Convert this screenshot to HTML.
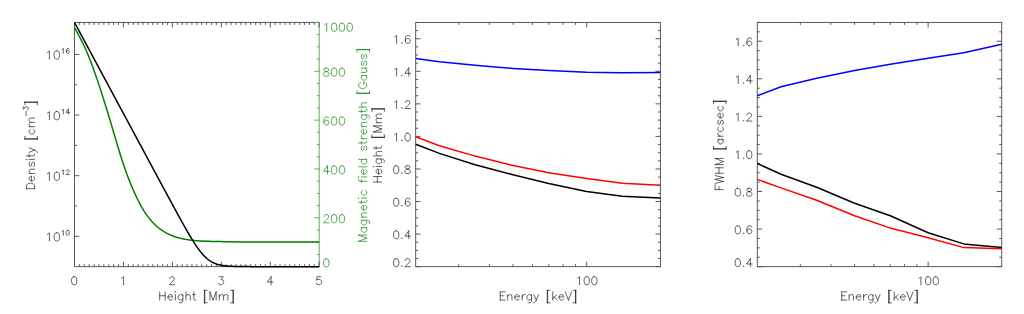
<!DOCTYPE html>
<html><head><meta charset="utf-8"><title>plot</title>
<style>html,body{margin:0;padding:0;background:#fff;font-family:"Liberation Sans",sans-serif;}svg{display:block}</style>
</head><body>
<svg role="img" aria-label="Density and magnetic field strength versus height; Height versus Energy; FWHM versus Energy" width="1024" height="314" viewBox="0 0 1024 314">
<title>Density [cm-3] and Magnetic field strength [Gauss] vs Height [Mm]; Height [Mm] vs Energy [keV]; FWHM [arcsec] vs Energy [keV]</title>
<rect width="1024" height="314" fill="#fff"/>
<line x1="74.50" y1="22.45" x2="74.50" y2="266.65" stroke="#505050" stroke-width="0.95"/>
<line x1="74.50" y1="22.45" x2="319.20" y2="22.45" stroke="#505050" stroke-width="0.95"/>
<line x1="74.50" y1="266.65" x2="319.20" y2="266.65" stroke="#505050" stroke-width="0.95"/>
<line x1="319.20" y1="22.45" x2="319.20" y2="266.65" stroke="#55aa55" stroke-width="0.95"/>
<line x1="74.50" y1="266.65" x2="74.50" y2="261.75" stroke="#505050" stroke-width="0.95"/>
<line x1="74.50" y1="22.45" x2="74.50" y2="27.35" stroke="#505050" stroke-width="0.95"/>
<line x1="79.39" y1="266.65" x2="79.39" y2="264.20" stroke="#505050" stroke-width="0.95"/>
<line x1="79.39" y1="22.45" x2="79.39" y2="24.90" stroke="#505050" stroke-width="0.95"/>
<line x1="84.29" y1="266.65" x2="84.29" y2="264.20" stroke="#505050" stroke-width="0.95"/>
<line x1="84.29" y1="22.45" x2="84.29" y2="24.90" stroke="#505050" stroke-width="0.95"/>
<line x1="89.18" y1="266.65" x2="89.18" y2="264.20" stroke="#505050" stroke-width="0.95"/>
<line x1="89.18" y1="22.45" x2="89.18" y2="24.90" stroke="#505050" stroke-width="0.95"/>
<line x1="94.08" y1="266.65" x2="94.08" y2="264.20" stroke="#505050" stroke-width="0.95"/>
<line x1="94.08" y1="22.45" x2="94.08" y2="24.90" stroke="#505050" stroke-width="0.95"/>
<line x1="98.97" y1="266.65" x2="98.97" y2="264.20" stroke="#505050" stroke-width="0.95"/>
<line x1="98.97" y1="22.45" x2="98.97" y2="24.90" stroke="#505050" stroke-width="0.95"/>
<line x1="103.86" y1="266.65" x2="103.86" y2="264.20" stroke="#505050" stroke-width="0.95"/>
<line x1="103.86" y1="22.45" x2="103.86" y2="24.90" stroke="#505050" stroke-width="0.95"/>
<line x1="108.76" y1="266.65" x2="108.76" y2="264.20" stroke="#505050" stroke-width="0.95"/>
<line x1="108.76" y1="22.45" x2="108.76" y2="24.90" stroke="#505050" stroke-width="0.95"/>
<line x1="113.65" y1="266.65" x2="113.65" y2="264.20" stroke="#505050" stroke-width="0.95"/>
<line x1="113.65" y1="22.45" x2="113.65" y2="24.90" stroke="#505050" stroke-width="0.95"/>
<line x1="118.55" y1="266.65" x2="118.55" y2="264.20" stroke="#505050" stroke-width="0.95"/>
<line x1="118.55" y1="22.45" x2="118.55" y2="24.90" stroke="#505050" stroke-width="0.95"/>
<line x1="123.44" y1="266.65" x2="123.44" y2="261.75" stroke="#505050" stroke-width="0.95"/>
<line x1="123.44" y1="22.45" x2="123.44" y2="27.35" stroke="#505050" stroke-width="0.95"/>
<line x1="128.33" y1="266.65" x2="128.33" y2="264.20" stroke="#505050" stroke-width="0.95"/>
<line x1="128.33" y1="22.45" x2="128.33" y2="24.90" stroke="#505050" stroke-width="0.95"/>
<line x1="133.23" y1="266.65" x2="133.23" y2="264.20" stroke="#505050" stroke-width="0.95"/>
<line x1="133.23" y1="22.45" x2="133.23" y2="24.90" stroke="#505050" stroke-width="0.95"/>
<line x1="138.12" y1="266.65" x2="138.12" y2="264.20" stroke="#505050" stroke-width="0.95"/>
<line x1="138.12" y1="22.45" x2="138.12" y2="24.90" stroke="#505050" stroke-width="0.95"/>
<line x1="143.02" y1="266.65" x2="143.02" y2="264.20" stroke="#505050" stroke-width="0.95"/>
<line x1="143.02" y1="22.45" x2="143.02" y2="24.90" stroke="#505050" stroke-width="0.95"/>
<line x1="147.91" y1="266.65" x2="147.91" y2="264.20" stroke="#505050" stroke-width="0.95"/>
<line x1="147.91" y1="22.45" x2="147.91" y2="24.90" stroke="#505050" stroke-width="0.95"/>
<line x1="152.80" y1="266.65" x2="152.80" y2="264.20" stroke="#505050" stroke-width="0.95"/>
<line x1="152.80" y1="22.45" x2="152.80" y2="24.90" stroke="#505050" stroke-width="0.95"/>
<line x1="157.70" y1="266.65" x2="157.70" y2="264.20" stroke="#505050" stroke-width="0.95"/>
<line x1="157.70" y1="22.45" x2="157.70" y2="24.90" stroke="#505050" stroke-width="0.95"/>
<line x1="162.59" y1="266.65" x2="162.59" y2="264.20" stroke="#505050" stroke-width="0.95"/>
<line x1="162.59" y1="22.45" x2="162.59" y2="24.90" stroke="#505050" stroke-width="0.95"/>
<line x1="167.49" y1="266.65" x2="167.49" y2="264.20" stroke="#505050" stroke-width="0.95"/>
<line x1="167.49" y1="22.45" x2="167.49" y2="24.90" stroke="#505050" stroke-width="0.95"/>
<line x1="172.38" y1="266.65" x2="172.38" y2="261.75" stroke="#505050" stroke-width="0.95"/>
<line x1="172.38" y1="22.45" x2="172.38" y2="27.35" stroke="#505050" stroke-width="0.95"/>
<line x1="177.27" y1="266.65" x2="177.27" y2="264.20" stroke="#505050" stroke-width="0.95"/>
<line x1="177.27" y1="22.45" x2="177.27" y2="24.90" stroke="#505050" stroke-width="0.95"/>
<line x1="182.17" y1="266.65" x2="182.17" y2="264.20" stroke="#505050" stroke-width="0.95"/>
<line x1="182.17" y1="22.45" x2="182.17" y2="24.90" stroke="#505050" stroke-width="0.95"/>
<line x1="187.06" y1="266.65" x2="187.06" y2="264.20" stroke="#505050" stroke-width="0.95"/>
<line x1="187.06" y1="22.45" x2="187.06" y2="24.90" stroke="#505050" stroke-width="0.95"/>
<line x1="191.96" y1="266.65" x2="191.96" y2="264.20" stroke="#505050" stroke-width="0.95"/>
<line x1="191.96" y1="22.45" x2="191.96" y2="24.90" stroke="#505050" stroke-width="0.95"/>
<line x1="196.85" y1="266.65" x2="196.85" y2="264.20" stroke="#505050" stroke-width="0.95"/>
<line x1="196.85" y1="22.45" x2="196.85" y2="24.90" stroke="#505050" stroke-width="0.95"/>
<line x1="201.74" y1="266.65" x2="201.74" y2="264.20" stroke="#505050" stroke-width="0.95"/>
<line x1="201.74" y1="22.45" x2="201.74" y2="24.90" stroke="#505050" stroke-width="0.95"/>
<line x1="206.64" y1="266.65" x2="206.64" y2="264.20" stroke="#505050" stroke-width="0.95"/>
<line x1="206.64" y1="22.45" x2="206.64" y2="24.90" stroke="#505050" stroke-width="0.95"/>
<line x1="211.53" y1="266.65" x2="211.53" y2="264.20" stroke="#505050" stroke-width="0.95"/>
<line x1="211.53" y1="22.45" x2="211.53" y2="24.90" stroke="#505050" stroke-width="0.95"/>
<line x1="216.43" y1="266.65" x2="216.43" y2="264.20" stroke="#505050" stroke-width="0.95"/>
<line x1="216.43" y1="22.45" x2="216.43" y2="24.90" stroke="#505050" stroke-width="0.95"/>
<line x1="221.32" y1="266.65" x2="221.32" y2="261.75" stroke="#505050" stroke-width="0.95"/>
<line x1="221.32" y1="22.45" x2="221.32" y2="27.35" stroke="#505050" stroke-width="0.95"/>
<line x1="226.21" y1="266.65" x2="226.21" y2="264.20" stroke="#505050" stroke-width="0.95"/>
<line x1="226.21" y1="22.45" x2="226.21" y2="24.90" stroke="#505050" stroke-width="0.95"/>
<line x1="231.11" y1="266.65" x2="231.11" y2="264.20" stroke="#505050" stroke-width="0.95"/>
<line x1="231.11" y1="22.45" x2="231.11" y2="24.90" stroke="#505050" stroke-width="0.95"/>
<line x1="236.00" y1="266.65" x2="236.00" y2="264.20" stroke="#505050" stroke-width="0.95"/>
<line x1="236.00" y1="22.45" x2="236.00" y2="24.90" stroke="#505050" stroke-width="0.95"/>
<line x1="240.90" y1="266.65" x2="240.90" y2="264.20" stroke="#505050" stroke-width="0.95"/>
<line x1="240.90" y1="22.45" x2="240.90" y2="24.90" stroke="#505050" stroke-width="0.95"/>
<line x1="245.79" y1="266.65" x2="245.79" y2="264.20" stroke="#505050" stroke-width="0.95"/>
<line x1="245.79" y1="22.45" x2="245.79" y2="24.90" stroke="#505050" stroke-width="0.95"/>
<line x1="250.68" y1="266.65" x2="250.68" y2="264.20" stroke="#505050" stroke-width="0.95"/>
<line x1="250.68" y1="22.45" x2="250.68" y2="24.90" stroke="#505050" stroke-width="0.95"/>
<line x1="255.58" y1="266.65" x2="255.58" y2="264.20" stroke="#505050" stroke-width="0.95"/>
<line x1="255.58" y1="22.45" x2="255.58" y2="24.90" stroke="#505050" stroke-width="0.95"/>
<line x1="260.47" y1="266.65" x2="260.47" y2="264.20" stroke="#505050" stroke-width="0.95"/>
<line x1="260.47" y1="22.45" x2="260.47" y2="24.90" stroke="#505050" stroke-width="0.95"/>
<line x1="265.37" y1="266.65" x2="265.37" y2="264.20" stroke="#505050" stroke-width="0.95"/>
<line x1="265.37" y1="22.45" x2="265.37" y2="24.90" stroke="#505050" stroke-width="0.95"/>
<line x1="270.26" y1="266.65" x2="270.26" y2="261.75" stroke="#505050" stroke-width="0.95"/>
<line x1="270.26" y1="22.45" x2="270.26" y2="27.35" stroke="#505050" stroke-width="0.95"/>
<line x1="275.15" y1="266.65" x2="275.15" y2="264.20" stroke="#505050" stroke-width="0.95"/>
<line x1="275.15" y1="22.45" x2="275.15" y2="24.90" stroke="#505050" stroke-width="0.95"/>
<line x1="280.05" y1="266.65" x2="280.05" y2="264.20" stroke="#505050" stroke-width="0.95"/>
<line x1="280.05" y1="22.45" x2="280.05" y2="24.90" stroke="#505050" stroke-width="0.95"/>
<line x1="284.94" y1="266.65" x2="284.94" y2="264.20" stroke="#505050" stroke-width="0.95"/>
<line x1="284.94" y1="22.45" x2="284.94" y2="24.90" stroke="#505050" stroke-width="0.95"/>
<line x1="289.84" y1="266.65" x2="289.84" y2="264.20" stroke="#505050" stroke-width="0.95"/>
<line x1="289.84" y1="22.45" x2="289.84" y2="24.90" stroke="#505050" stroke-width="0.95"/>
<line x1="294.73" y1="266.65" x2="294.73" y2="264.20" stroke="#505050" stroke-width="0.95"/>
<line x1="294.73" y1="22.45" x2="294.73" y2="24.90" stroke="#505050" stroke-width="0.95"/>
<line x1="299.62" y1="266.65" x2="299.62" y2="264.20" stroke="#505050" stroke-width="0.95"/>
<line x1="299.62" y1="22.45" x2="299.62" y2="24.90" stroke="#505050" stroke-width="0.95"/>
<line x1="304.52" y1="266.65" x2="304.52" y2="264.20" stroke="#505050" stroke-width="0.95"/>
<line x1="304.52" y1="22.45" x2="304.52" y2="24.90" stroke="#505050" stroke-width="0.95"/>
<line x1="309.41" y1="266.65" x2="309.41" y2="264.20" stroke="#505050" stroke-width="0.95"/>
<line x1="309.41" y1="22.45" x2="309.41" y2="24.90" stroke="#505050" stroke-width="0.95"/>
<line x1="314.31" y1="266.65" x2="314.31" y2="264.20" stroke="#505050" stroke-width="0.95"/>
<line x1="314.31" y1="22.45" x2="314.31" y2="24.90" stroke="#505050" stroke-width="0.95"/>
<line x1="319.20" y1="266.65" x2="319.20" y2="261.75" stroke="#505050" stroke-width="0.95"/>
<line x1="319.20" y1="22.45" x2="319.20" y2="27.35" stroke="#505050" stroke-width="0.95"/>
<path d="M73.82 276.72L72.68 277.10L71.92 278.24L71.54 280.14L71.54 281.28L71.92 283.18L72.68 284.32L73.82 284.70L74.58 284.70L75.72 284.32L76.48 283.18L76.86 281.28L76.86 280.14L76.48 278.24L75.72 277.10L74.58 276.72L73.82 276.72" fill="none" stroke="#000" stroke-width="0.62" stroke-linecap="round" stroke-linejoin="round" />
<path d="M121.62 278.24L122.38 277.86L123.52 276.72L123.52 284.70" fill="none" stroke="#000" stroke-width="0.62" stroke-linecap="round" stroke-linejoin="round" />
<path d="M169.80 278.62L169.80 278.24L170.18 277.48L170.56 277.10L171.32 276.72L172.84 276.72L173.60 277.10L173.98 277.48L174.36 278.24L174.36 279.00L173.98 279.76L173.22 280.90L169.42 284.70L174.74 284.70" fill="none" stroke="#000" stroke-width="0.62" stroke-linecap="round" stroke-linejoin="round" />
<path d="M219.12 276.72L223.30 276.72L221.02 279.76L222.16 279.76L222.92 280.14L223.30 280.52L223.68 281.66L223.68 282.42L223.30 283.56L222.54 284.32L221.40 284.70L220.26 284.70L219.12 284.32L218.74 283.94L218.36 283.18" fill="none" stroke="#000" stroke-width="0.62" stroke-linecap="round" stroke-linejoin="round" />
<path d="M271.10 276.72L267.30 282.04L273.00 282.04M271.10 276.72L271.10 284.70" fill="none" stroke="#000" stroke-width="0.62" stroke-linecap="round" stroke-linejoin="round" />
<path d="M320.80 276.72L317.00 276.72L316.62 280.14L317.00 279.76L318.14 279.38L319.28 279.38L320.42 279.76L321.18 280.52L321.56 281.66L321.56 282.42L321.18 283.56L320.42 284.32L319.28 284.70L318.14 284.70L317.00 284.32L316.62 283.94L316.24 283.18" fill="none" stroke="#000" stroke-width="0.62" stroke-linecap="round" stroke-linejoin="round" />
<path d="M159.70 291.87L159.70 300.10M165.19 291.87L165.19 300.10M159.70 295.79L165.19 295.79M167.93 296.96L172.64 296.96L172.64 296.18L172.25 295.40L171.85 295.00L171.07 294.61L169.89 294.61L169.11 295.00L168.33 295.79L167.93 296.96L167.93 297.75L168.33 298.92L169.11 299.71L169.89 300.10L171.07 300.10L171.85 299.71L172.64 298.92M174.99 291.87L175.38 292.26L175.77 291.87L175.38 291.48L174.99 291.87M175.38 294.61L175.38 300.10M182.83 294.61L182.83 300.88L182.44 302.06L182.05 302.45L181.26 302.84L180.09 302.84L179.30 302.45M182.83 295.79L182.05 295.00L181.26 294.61L180.09 294.61L179.30 295.00L178.52 295.79L178.13 296.96L178.13 297.75L178.52 298.92L179.30 299.71L180.09 300.10L181.26 300.10L182.05 299.71L182.83 298.92M185.97 291.87L185.97 300.10M185.97 296.18L187.14 295.00L187.93 294.61L189.10 294.61L189.89 295.00L190.28 296.18L190.28 300.10M193.81 291.87L193.81 298.53L194.20 299.71L194.98 300.10L195.77 300.10M192.63 294.61L195.37 294.61M204.39 290.30L204.39 302.84M204.78 290.30L204.78 302.84M204.39 290.30L207.13 290.30M204.39 302.84L207.13 302.84M209.88 291.87L209.88 300.10M209.88 291.87L213.01 300.10M216.15 291.87L213.01 300.10M216.15 291.87L216.15 300.10M219.29 294.61L219.29 300.10M219.29 296.18L220.46 295.00L221.25 294.61L222.42 294.61L223.21 295.00L223.60 296.18L223.60 300.10M223.60 296.18L224.77 295.00L225.56 294.61L226.73 294.61L227.52 295.00L227.91 296.18L227.91 300.10M233.01 290.30L233.01 302.84M233.40 290.30L233.40 302.84M230.65 290.30L233.40 290.30M230.65 302.84L233.40 302.84" fill="none" stroke="#000" stroke-width="0.62" stroke-linecap="round" stroke-linejoin="round" />
<line x1="74.50" y1="236.33" x2="79.40" y2="236.33" stroke="#505050" stroke-width="0.95"/>
<path d="M47.42 234.37L48.20 233.97L49.38 232.80L49.38 241.03M56.44 232.80L55.26 233.19L54.48 234.37L54.08 236.33L54.08 237.50L54.48 239.46L55.26 240.64L56.44 241.03L57.22 241.03L58.40 240.64L59.18 239.46L59.57 237.50L59.57 236.33L59.18 234.37L58.40 233.19L57.22 232.80L56.44 232.80M62.14 231.30L62.60 231.07L63.29 230.37L63.29 235.23M67.46 230.37L66.76 230.60L66.30 231.30L66.07 232.45L66.07 233.15L66.30 234.30L66.76 235.00L67.46 235.23L67.92 235.23L68.61 235.00L69.07 234.30L69.31 233.15L69.31 232.45L69.07 231.30L68.61 230.60L67.92 230.37L67.46 230.37" fill="none" stroke="#000" stroke-width="0.62" stroke-linecap="round" stroke-linejoin="round" />
<line x1="74.50" y1="206.01" x2="76.95" y2="206.01" stroke="#505050" stroke-width="0.95"/>
<line x1="74.50" y1="175.69" x2="79.40" y2="175.69" stroke="#505050" stroke-width="0.95"/>
<path d="M47.42 173.73L48.20 173.33L49.38 172.16L49.38 180.39M56.44 172.16L55.26 172.55L54.48 173.73L54.08 175.69L54.08 176.86L54.48 178.82L55.26 180.00L56.44 180.39L57.22 180.39L58.40 180.00L59.18 178.82L59.57 176.86L59.57 175.69L59.18 173.73L58.40 172.55L57.22 172.16L56.44 172.16M62.14 170.66L62.60 170.43L63.29 169.73L63.29 174.59M66.30 170.89L66.30 170.66L66.53 170.19L66.76 169.96L67.22 169.73L68.15 169.73L68.61 169.96L68.84 170.19L69.07 170.66L69.07 171.12L68.84 171.58L68.38 172.28L66.07 174.59L69.31 174.59" fill="none" stroke="#000" stroke-width="0.62" stroke-linecap="round" stroke-linejoin="round" />
<line x1="74.50" y1="145.37" x2="76.95" y2="145.37" stroke="#505050" stroke-width="0.95"/>
<line x1="74.50" y1="115.05" x2="79.40" y2="115.05" stroke="#505050" stroke-width="0.95"/>
<path d="M47.42 113.09L48.20 112.69L49.38 111.52L49.38 119.75M56.44 111.52L55.26 111.91L54.48 113.09L54.08 115.05L54.08 116.22L54.48 118.18L55.26 119.36L56.44 119.75L57.22 119.75L58.40 119.36L59.18 118.18L59.57 116.22L59.57 115.05L59.18 113.09L58.40 111.91L57.22 111.52L56.44 111.52M62.14 110.02L62.60 109.79L63.29 109.09L63.29 113.95M68.38 109.09L66.07 112.33L69.54 112.33M68.38 109.09L68.38 113.95" fill="none" stroke="#000" stroke-width="0.62" stroke-linecap="round" stroke-linejoin="round" />
<line x1="74.50" y1="84.73" x2="76.95" y2="84.73" stroke="#505050" stroke-width="0.95"/>
<line x1="74.50" y1="54.41" x2="79.40" y2="54.41" stroke="#505050" stroke-width="0.95"/>
<path d="M47.42 52.45L48.20 52.05L49.38 50.88L49.38 59.11M56.44 50.88L55.26 51.27L54.48 52.45L54.08 54.41L54.08 55.58L54.48 57.54L55.26 58.72L56.44 59.11L57.22 59.11L58.40 58.72L59.18 57.54L59.57 55.58L59.57 54.41L59.18 52.45L58.40 51.27L57.22 50.88L56.44 50.88M62.14 49.38L62.60 49.15L63.29 48.45L63.29 53.31M69.07 49.15L68.84 48.68L68.15 48.45L67.69 48.45L66.99 48.68L66.53 49.38L66.30 50.53L66.30 51.69L66.53 52.61L66.99 53.08L67.69 53.31L67.92 53.31L68.61 53.08L69.07 52.61L69.31 51.92L69.31 51.69L69.07 51.00L68.61 50.53L67.92 50.30L67.69 50.30L66.99 50.53L66.53 51.00L66.30 51.69" fill="none" stroke="#000" stroke-width="0.62" stroke-linecap="round" stroke-linejoin="round" />
<path d="M-43.32 -8.19L-43.32 0.00M-43.32 -8.19L-40.59 -8.19L-39.42 -7.80L-38.64 -7.02L-38.25 -6.24L-37.86 -5.07L-37.86 -3.12L-38.25 -1.95L-38.64 -1.17L-39.42 -0.39L-40.59 0.00L-43.32 0.00M-35.52 -3.12L-30.84 -3.12L-30.84 -3.90L-31.23 -4.68L-31.62 -5.07L-32.40 -5.46L-33.57 -5.46L-34.35 -5.07L-35.13 -4.29L-35.52 -3.12L-35.52 -2.34L-35.13 -1.17L-34.35 -0.39L-33.57 0.00L-32.40 0.00L-31.62 -0.39L-30.84 -1.17M-28.11 -5.46L-28.11 0.00M-28.11 -3.90L-26.94 -5.07L-26.16 -5.46L-24.99 -5.46L-24.21 -5.07L-23.82 -3.90L-23.82 0.00M-16.80 -4.29L-17.19 -5.07L-18.36 -5.46L-19.53 -5.46L-20.70 -5.07L-21.09 -4.29L-20.70 -3.51L-19.92 -3.12L-17.97 -2.73L-17.19 -2.34L-16.80 -1.56L-16.80 -1.17L-17.19 -0.39L-18.36 0.00L-19.53 0.00L-20.70 -0.39L-21.09 -1.17M-14.46 -8.19L-14.07 -7.80L-13.68 -8.19L-14.07 -8.58L-14.46 -8.19M-14.07 -5.46L-14.07 0.00M-10.56 -8.19L-10.56 -1.56L-10.17 -0.39L-9.39 0.00L-8.61 0.00M-11.73 -5.46L-9.00 -5.46M-7.05 -5.46L-4.71 0.00M-2.37 -5.46L-4.71 0.00L-5.49 1.56L-6.27 2.34L-7.05 2.73L-7.44 2.73M6.21 -9.75L6.21 2.73M6.60 -9.75L6.60 2.73M6.21 -9.75L8.94 -9.75M6.21 2.73L8.94 2.73M15.96 -4.29L15.18 -5.07L14.40 -5.46L13.23 -5.46L12.45 -5.07L11.67 -4.29L11.28 -3.12L11.28 -2.34L11.67 -1.17L12.45 -0.39L13.23 0.00L14.40 0.00L15.18 -0.39L15.96 -1.17M18.69 -5.46L18.69 0.00M18.69 -3.90L19.86 -5.07L20.64 -5.46L21.81 -5.46L22.59 -5.07L22.98 -3.90L22.98 0.00M22.98 -3.90L24.15 -5.07L24.93 -5.46L26.10 -5.46L26.88 -5.07L27.27 -3.90L27.27 0.00M29.75 -8.54L33.89 -8.54M35.97 -11.31L38.50 -11.31L37.12 -9.47L37.81 -9.47L38.27 -9.24L38.50 -9.01L38.73 -8.31L38.73 -7.85L38.50 -7.16L38.04 -6.70L37.35 -6.47L36.66 -6.47L35.97 -6.70L35.74 -6.93L35.51 -7.39M42.93 -9.75L42.93 2.73M43.32 -9.75L43.32 2.73M40.59 -9.75L43.32 -9.75M40.59 2.73L43.32 2.73" fill="none" stroke="#000" stroke-width="0.62" stroke-linecap="round" stroke-linejoin="round" transform="translate(34.60 145.35) rotate(-90)"/>
<line x1="319.20" y1="266.65" x2="314.30" y2="266.65" stroke="#55aa55" stroke-width="0.95"/>
<path d="M325.91 258.76L324.74 259.15L323.96 260.32L323.57 262.27L323.57 263.44L323.96 265.39L324.74 266.56L325.91 266.95L326.69 266.95L327.86 266.56L328.64 265.39L329.03 263.44L329.03 262.27L328.64 260.32L327.86 259.15L326.69 258.76L325.91 258.76" fill="none" stroke="#008000" stroke-width="0.68" stroke-linecap="round" stroke-linejoin="round" />
<line x1="319.20" y1="254.44" x2="316.75" y2="254.44" stroke="#55aa55" stroke-width="0.95"/>
<line x1="319.20" y1="242.23" x2="316.75" y2="242.23" stroke="#55aa55" stroke-width="0.95"/>
<line x1="319.20" y1="230.02" x2="316.75" y2="230.02" stroke="#55aa55" stroke-width="0.95"/>
<line x1="319.20" y1="217.81" x2="314.30" y2="217.81" stroke="#55aa55" stroke-width="0.95"/>
<path d="M323.96 216.57L323.96 216.18L324.35 215.40L324.74 215.01L325.52 214.62L327.08 214.62L327.86 215.01L328.25 215.40L328.64 216.18L328.64 216.96L328.25 217.74L327.47 218.91L323.57 222.81L329.03 222.81M333.71 214.62L332.54 215.01L331.76 216.18L331.37 218.13L331.37 219.30L331.76 221.25L332.54 222.42L333.71 222.81L334.49 222.81L335.66 222.42L336.44 221.25L336.83 219.30L336.83 218.13L336.44 216.18L335.66 215.01L334.49 214.62L333.71 214.62M341.51 214.62L340.34 215.01L339.56 216.18L339.17 218.13L339.17 219.30L339.56 221.25L340.34 222.42L341.51 222.81L342.29 222.81L343.46 222.42L344.24 221.25L344.63 219.30L344.63 218.13L344.24 216.18L343.46 215.01L342.29 214.62L341.51 214.62" fill="none" stroke="#008000" stroke-width="0.68" stroke-linecap="round" stroke-linejoin="round" />
<line x1="319.20" y1="205.60" x2="316.75" y2="205.60" stroke="#55aa55" stroke-width="0.95"/>
<line x1="319.20" y1="193.39" x2="316.75" y2="193.39" stroke="#55aa55" stroke-width="0.95"/>
<line x1="319.20" y1="181.18" x2="316.75" y2="181.18" stroke="#55aa55" stroke-width="0.95"/>
<line x1="319.20" y1="168.97" x2="314.30" y2="168.97" stroke="#55aa55" stroke-width="0.95"/>
<path d="M327.47 165.78L323.57 171.24L329.42 171.24M327.47 165.78L327.47 173.97M333.71 165.78L332.54 166.17L331.76 167.34L331.37 169.29L331.37 170.46L331.76 172.41L332.54 173.58L333.71 173.97L334.49 173.97L335.66 173.58L336.44 172.41L336.83 170.46L336.83 169.29L336.44 167.34L335.66 166.17L334.49 165.78L333.71 165.78M341.51 165.78L340.34 166.17L339.56 167.34L339.17 169.29L339.17 170.46L339.56 172.41L340.34 173.58L341.51 173.97L342.29 173.97L343.46 173.58L344.24 172.41L344.63 170.46L344.63 169.29L344.24 167.34L343.46 166.17L342.29 165.78L341.51 165.78" fill="none" stroke="#008000" stroke-width="0.68" stroke-linecap="round" stroke-linejoin="round" />
<line x1="319.20" y1="156.76" x2="316.75" y2="156.76" stroke="#55aa55" stroke-width="0.95"/>
<line x1="319.20" y1="144.55" x2="316.75" y2="144.55" stroke="#55aa55" stroke-width="0.95"/>
<line x1="319.20" y1="132.34" x2="316.75" y2="132.34" stroke="#55aa55" stroke-width="0.95"/>
<line x1="319.20" y1="120.13" x2="314.30" y2="120.13" stroke="#55aa55" stroke-width="0.95"/>
<path d="M328.64 118.11L328.25 117.33L327.08 116.94L326.30 116.94L325.13 117.33L324.35 118.50L323.96 120.45L323.96 122.40L324.35 123.96L325.13 124.74L326.30 125.13L326.69 125.13L327.86 124.74L328.64 123.96L329.03 122.79L329.03 122.40L328.64 121.23L327.86 120.45L326.69 120.06L326.30 120.06L325.13 120.45L324.35 121.23L323.96 122.40M333.71 116.94L332.54 117.33L331.76 118.50L331.37 120.45L331.37 121.62L331.76 123.57L332.54 124.74L333.71 125.13L334.49 125.13L335.66 124.74L336.44 123.57L336.83 121.62L336.83 120.45L336.44 118.50L335.66 117.33L334.49 116.94L333.71 116.94M341.51 116.94L340.34 117.33L339.56 118.50L339.17 120.45L339.17 121.62L339.56 123.57L340.34 124.74L341.51 125.13L342.29 125.13L343.46 124.74L344.24 123.57L344.63 121.62L344.63 120.45L344.24 118.50L343.46 117.33L342.29 116.94L341.51 116.94" fill="none" stroke="#008000" stroke-width="0.68" stroke-linecap="round" stroke-linejoin="round" />
<line x1="319.20" y1="107.92" x2="316.75" y2="107.92" stroke="#55aa55" stroke-width="0.95"/>
<line x1="319.20" y1="95.71" x2="316.75" y2="95.71" stroke="#55aa55" stroke-width="0.95"/>
<line x1="319.20" y1="83.50" x2="316.75" y2="83.50" stroke="#55aa55" stroke-width="0.95"/>
<line x1="319.20" y1="71.29" x2="314.30" y2="71.29" stroke="#55aa55" stroke-width="0.95"/>
<path d="M325.52 68.10L324.35 68.49L323.96 69.27L323.96 70.05L324.35 70.83L325.13 71.22L326.69 71.61L327.86 72.00L328.64 72.78L329.03 73.56L329.03 74.73L328.64 75.51L328.25 75.90L327.08 76.29L325.52 76.29L324.35 75.90L323.96 75.51L323.57 74.73L323.57 73.56L323.96 72.78L324.74 72.00L325.91 71.61L327.47 71.22L328.25 70.83L328.64 70.05L328.64 69.27L328.25 68.49L327.08 68.10L325.52 68.10M333.71 68.10L332.54 68.49L331.76 69.66L331.37 71.61L331.37 72.78L331.76 74.73L332.54 75.90L333.71 76.29L334.49 76.29L335.66 75.90L336.44 74.73L336.83 72.78L336.83 71.61L336.44 69.66L335.66 68.49L334.49 68.10L333.71 68.10M341.51 68.10L340.34 68.49L339.56 69.66L339.17 71.61L339.17 72.78L339.56 74.73L340.34 75.90L341.51 76.29L342.29 76.29L343.46 75.90L344.24 74.73L344.63 72.78L344.63 71.61L344.24 69.66L343.46 68.49L342.29 68.10L341.51 68.10" fill="none" stroke="#008000" stroke-width="0.68" stroke-linecap="round" stroke-linejoin="round" />
<line x1="319.20" y1="59.08" x2="316.75" y2="59.08" stroke="#55aa55" stroke-width="0.95"/>
<line x1="319.20" y1="46.87" x2="316.75" y2="46.87" stroke="#55aa55" stroke-width="0.95"/>
<line x1="319.20" y1="34.66" x2="316.75" y2="34.66" stroke="#55aa55" stroke-width="0.95"/>
<line x1="319.20" y1="22.45" x2="314.30" y2="22.45" stroke="#55aa55" stroke-width="0.95"/>
<path d="M324.74 24.72L325.52 24.33L326.69 23.16L326.69 31.35M333.71 23.16L332.54 23.55L331.76 24.72L331.37 26.67L331.37 27.84L331.76 29.79L332.54 30.96L333.71 31.35L334.49 31.35L335.66 30.96L336.44 29.79L336.83 27.84L336.83 26.67L336.44 24.72L335.66 23.55L334.49 23.16L333.71 23.16M341.51 23.16L340.34 23.55L339.56 24.72L339.17 26.67L339.17 27.84L339.56 29.79L340.34 30.96L341.51 31.35L342.29 31.35L343.46 30.96L344.24 29.79L344.63 27.84L344.63 26.67L344.24 24.72L343.46 23.55L342.29 23.16L341.51 23.16M349.31 23.16L348.14 23.55L347.36 24.72L346.97 26.67L346.97 27.84L347.36 29.79L348.14 30.96L349.31 31.35L350.09 31.35L351.26 30.96L352.04 29.79L352.43 27.84L352.43 26.67L352.04 24.72L351.26 23.55L350.09 23.16L349.31 23.16" fill="none" stroke="#008000" stroke-width="0.68" stroke-linecap="round" stroke-linejoin="round" />
<path d="M-95.94 -8.19L-95.94 0.00M-95.94 -8.19L-92.82 0.00M-89.70 -8.19L-92.82 0.00M-89.70 -8.19L-89.70 0.00M-82.29 -5.46L-82.29 0.00M-82.29 -4.29L-83.07 -5.07L-83.85 -5.46L-85.02 -5.46L-85.80 -5.07L-86.58 -4.29L-86.97 -3.12L-86.97 -2.34L-86.58 -1.17L-85.80 -0.39L-85.02 0.00L-83.85 0.00L-83.07 -0.39L-82.29 -1.17M-74.88 -5.46L-74.88 0.78L-75.27 1.95L-75.66 2.34L-76.44 2.73L-77.61 2.73L-78.39 2.34M-74.88 -4.29L-75.66 -5.07L-76.44 -5.46L-77.61 -5.46L-78.39 -5.07L-79.17 -4.29L-79.56 -3.12L-79.56 -2.34L-79.17 -1.17L-78.39 -0.39L-77.61 0.00L-76.44 0.00L-75.66 -0.39L-74.88 -1.17M-71.76 -5.46L-71.76 0.00M-71.76 -3.90L-70.59 -5.07L-69.81 -5.46L-68.64 -5.46L-67.86 -5.07L-67.47 -3.90L-67.47 0.00M-64.74 -3.12L-60.06 -3.12L-60.06 -3.90L-60.45 -4.68L-60.84 -5.07L-61.62 -5.46L-62.79 -5.46L-63.57 -5.07L-64.35 -4.29L-64.74 -3.12L-64.74 -2.34L-64.35 -1.17L-63.57 -0.39L-62.79 0.00L-61.62 0.00L-60.84 -0.39L-60.06 -1.17M-56.94 -8.19L-56.94 -1.56L-56.55 -0.39L-55.77 0.00L-54.99 0.00M-58.11 -5.46L-55.38 -5.46M-53.04 -8.19L-52.65 -7.80L-52.26 -8.19L-52.65 -8.58L-53.04 -8.19M-52.65 -5.46L-52.65 0.00M-45.24 -4.29L-46.02 -5.07L-46.80 -5.46L-47.97 -5.46L-48.75 -5.07L-49.53 -4.29L-49.92 -3.12L-49.92 -2.34L-49.53 -1.17L-48.75 -0.39L-47.97 0.00L-46.80 0.00L-46.02 -0.39L-45.24 -1.17M-33.93 -8.19L-34.71 -8.19L-35.49 -7.80L-35.88 -6.63L-35.88 0.00M-37.05 -5.46L-34.32 -5.46M-31.98 -8.19L-31.59 -7.80L-31.20 -8.19L-31.59 -8.58L-31.98 -8.19M-31.59 -5.46L-31.59 0.00M-28.86 -3.12L-24.18 -3.12L-24.18 -3.90L-24.57 -4.68L-24.96 -5.07L-25.74 -5.46L-26.91 -5.46L-27.69 -5.07L-28.47 -4.29L-28.86 -3.12L-28.86 -2.34L-28.47 -1.17L-27.69 -0.39L-26.91 0.00L-25.74 0.00L-24.96 -0.39L-24.18 -1.17M-21.45 -8.19L-21.45 0.00M-14.04 -8.19L-14.04 0.00M-14.04 -4.29L-14.82 -5.07L-15.60 -5.46L-16.77 -5.46L-17.55 -5.07L-18.33 -4.29L-18.72 -3.12L-18.72 -2.34L-18.33 -1.17L-17.55 -0.39L-16.77 0.00L-15.60 0.00L-14.82 -0.39L-14.04 -1.17M-0.78 -4.29L-1.17 -5.07L-2.34 -5.46L-3.51 -5.46L-4.68 -5.07L-5.07 -4.29L-4.68 -3.51L-3.90 -3.12L-1.95 -2.73L-1.17 -2.34L-0.78 -1.56L-0.78 -1.17L-1.17 -0.39L-2.34 0.00L-3.51 0.00L-4.68 -0.39L-5.07 -1.17M2.34 -8.19L2.34 -1.56L2.73 -0.39L3.51 0.00L4.29 0.00M1.17 -5.46L3.90 -5.46M6.63 -5.46L6.63 0.00M6.63 -3.12L7.02 -4.29L7.80 -5.07L8.58 -5.46L9.75 -5.46M11.31 -3.12L15.99 -3.12L15.99 -3.90L15.60 -4.68L15.21 -5.07L14.43 -5.46L13.26 -5.46L12.48 -5.07L11.70 -4.29L11.31 -3.12L11.31 -2.34L11.70 -1.17L12.48 -0.39L13.26 0.00L14.43 0.00L15.21 -0.39L15.99 -1.17M18.72 -5.46L18.72 0.00M18.72 -3.90L19.89 -5.07L20.67 -5.46L21.84 -5.46L22.62 -5.07L23.01 -3.90L23.01 0.00M30.42 -5.46L30.42 0.78L30.03 1.95L29.64 2.34L28.86 2.73L27.69 2.73L26.91 2.34M30.42 -4.29L29.64 -5.07L28.86 -5.46L27.69 -5.46L26.91 -5.07L26.13 -4.29L25.74 -3.12L25.74 -2.34L26.13 -1.17L26.91 -0.39L27.69 0.00L28.86 0.00L29.64 -0.39L30.42 -1.17M33.93 -8.19L33.93 -1.56L34.32 -0.39L35.10 0.00L35.88 0.00M32.76 -5.46L35.49 -5.46M38.22 -8.19L38.22 0.00M38.22 -3.90L39.39 -5.07L40.17 -5.46L41.34 -5.46L42.12 -5.07L42.51 -3.90L42.51 0.00M51.87 -9.75L51.87 2.73M52.26 -9.75L52.26 2.73M51.87 -9.75L54.60 -9.75M51.87 2.73L54.60 2.73M62.79 -6.24L62.40 -7.02L61.62 -7.80L60.84 -8.19L59.28 -8.19L58.50 -7.80L57.72 -7.02L57.33 -6.24L56.94 -5.07L56.94 -3.12L57.33 -1.95L57.72 -1.17L58.50 -0.39L59.28 0.00L60.84 0.00L61.62 -0.39L62.40 -1.17L62.79 -1.95L62.79 -3.12M60.84 -3.12L62.79 -3.12M69.81 -5.46L69.81 0.00M69.81 -4.29L69.03 -5.07L68.25 -5.46L67.08 -5.46L66.30 -5.07L65.52 -4.29L65.13 -3.12L65.13 -2.34L65.52 -1.17L66.30 -0.39L67.08 0.00L68.25 0.00L69.03 -0.39L69.81 -1.17M72.93 -5.46L72.93 -1.56L73.32 -0.39L74.10 0.00L75.27 0.00L76.05 -0.39L77.22 -1.56M77.22 -5.46L77.22 0.00M84.24 -4.29L83.85 -5.07L82.68 -5.46L81.51 -5.46L80.34 -5.07L79.95 -4.29L80.34 -3.51L81.12 -3.12L83.07 -2.73L83.85 -2.34L84.24 -1.56L84.24 -1.17L83.85 -0.39L82.68 0.00L81.51 0.00L80.34 -0.39L79.95 -1.17M90.87 -4.29L90.48 -5.07L89.31 -5.46L88.14 -5.46L86.97 -5.07L86.58 -4.29L86.97 -3.51L87.75 -3.12L89.70 -2.73L90.48 -2.34L90.87 -1.56L90.87 -1.17L90.48 -0.39L89.31 0.00L88.14 0.00L86.97 -0.39L86.58 -1.17M95.55 -9.75L95.55 2.73M95.94 -9.75L95.94 2.73M93.21 -9.75L95.94 -9.75M93.21 2.73L95.94 2.73" fill="none" stroke="#008000" stroke-width="0.68" stroke-linecap="round" stroke-linejoin="round" transform="translate(366.80 145.35) rotate(-90)"/>
<polyline points="74.30,27.27 75.06,28.63 75.81,29.98 76.57,31.35 77.33,32.71 78.09,34.09 78.84,35.49 79.60,36.91 80.36,38.35 81.12,39.81 81.87,41.31 82.63,42.84 83.39,44.40 84.14,46.00 84.90,47.64 85.66,49.31 86.42,51.03 87.17,52.79 87.93,54.59 88.69,56.43 89.45,58.31 90.20,60.24 90.96,62.20 91.72,64.20 92.47,66.24 93.23,68.31 93.99,70.42 94.75,72.56 95.50,74.72 96.26,76.92 97.02,79.13 97.78,81.38 98.53,83.64 99.29,85.93 100.05,88.23 100.81,90.56 101.56,92.90 102.32,95.26 103.08,97.63 103.83,100.03 104.59,102.44 105.35,104.86 106.11,107.30 106.86,109.76 107.62,112.24 108.38,114.72 109.14,117.23 109.89,119.75 110.65,122.28 111.41,124.82 112.16,127.37 112.92,129.93 113.68,132.50 114.44,135.06 115.19,137.62 115.95,140.18 116.71,142.73 117.47,145.26 118.22,147.78 118.98,150.27 119.74,152.74 120.49,155.17 121.25,157.57 122.01,159.93 122.77,162.24 123.52,164.52 124.28,166.74 125.04,168.93 125.80,171.07 126.55,173.16 127.31,175.22 128.07,177.23 128.82,179.20 129.58,181.13 130.34,183.03 131.10,184.88 131.85,186.71 132.61,188.49 133.37,190.24 134.13,191.95 134.88,193.63 135.64,195.28 136.40,196.89 137.15,198.47 137.91,200.01 138.67,201.51 139.43,202.97 140.18,204.40 140.94,205.78 141.70,207.12 142.46,208.42 143.21,209.68 143.97,210.90 144.73,212.08 145.48,213.22 146.24,214.32 147.00,215.39 147.76,216.42 148.51,217.42 149.27,218.38 150.03,219.32 150.79,220.21 151.54,221.08 152.30,221.92 153.06,222.73 153.82,223.51 154.57,224.26 155.33,224.99 156.09,225.69 156.84,226.37 157.60,227.02 158.36,227.64 159.12,228.25 159.87,228.83 160.63,229.39 161.39,229.93 162.15,230.45 162.90,230.94 163.66,231.42 164.42,231.89 165.17,232.33 165.93,232.76 166.69,233.16 167.45,233.56 168.20,233.94 168.96,234.30 169.72,234.65 170.48,234.98 171.23,235.30 171.99,235.61 172.75,235.91 173.50,236.19 174.26,236.46 175.02,236.72 175.78,236.97 176.53,237.21 177.29,237.44 178.05,237.66 178.81,237.87 179.56,238.07 180.32,238.26 181.08,238.44 181.83,238.62 182.59,238.78 183.35,238.94 184.11,239.09 184.86,239.24 185.62,239.37 186.38,239.50 187.14,239.63 187.89,239.74 188.65,239.86 189.41,239.96 190.16,240.06 190.92,240.16 191.68,240.25 192.44,240.33 193.19,240.41 193.95,240.49 194.71,240.56 195.47,240.63 196.22,240.69 196.98,240.75 197.74,240.81 198.49,240.86 199.25,240.91 200.01,240.96 200.77,241.00 201.52,241.04 202.28,241.08 203.04,241.12 203.80,241.15 204.55,241.18 205.31,241.21 206.07,241.24 206.83,241.27 207.58,241.30 208.34,241.32 209.10,241.34 209.85,241.36 210.61,241.38 211.37,241.40 212.13,241.42 212.88,241.44 213.64,241.46 214.40,241.47 215.16,241.49 215.91,241.51 216.67,241.52 217.43,241.54 218.18,241.55 218.94,241.56 219.70,241.58 220.46,241.59 221.21,241.61 221.97,241.62 222.73,241.63 223.49,241.65 224.24,241.66 225.00,241.67 240.00,242.00 260.00,242.10 319.20,242.10" fill="none" stroke="#007f00" stroke-width="1.50" stroke-linejoin="round" stroke-linecap="butt"/>
<polyline points="74.50,22.45 74.99,23.36 75.48,24.27 75.97,25.18 76.46,26.09 76.95,27.00 77.44,27.91 77.93,28.82 78.42,29.73 78.90,30.64 79.39,31.55 79.88,32.46 80.37,33.37 80.86,34.28 81.35,35.19 81.84,36.10 82.33,37.01 82.82,37.92 83.31,38.84 83.80,39.75 84.29,40.66 84.78,41.57 85.27,42.48 85.76,43.39 86.25,44.30 86.73,45.21 87.22,46.12 87.71,47.03 88.20,47.94 88.69,48.85 89.18,49.76 89.67,50.67 90.16,51.58 90.65,52.49 91.14,53.40 91.63,54.31 92.12,55.22 92.61,56.13 93.10,57.04 93.59,57.95 94.08,58.86 94.57,59.77 95.05,60.68 95.54,61.59 96.03,62.50 96.52,63.41 97.01,64.32 97.50,65.23 97.99,66.14 98.48,67.05 98.97,67.96 99.46,68.87 99.95,69.78 100.44,70.70 100.93,71.61 101.42,72.52 101.91,73.43 102.40,74.34 102.89,75.25 103.37,76.16 103.86,77.07 104.35,77.98 104.84,78.89 105.33,79.80 105.82,80.71 106.31,81.62 106.80,82.53 107.29,83.44 107.78,84.35 108.27,85.26 108.76,86.17 109.25,87.08 109.74,87.99 110.23,88.90 110.72,89.81 111.20,90.72 111.69,91.63 112.18,92.54 112.67,93.45 113.16,94.36 113.65,95.27 114.14,96.18 114.63,97.09 115.12,98.00 115.61,98.91 116.10,99.82 116.59,100.73 117.08,101.64 117.57,102.55 118.06,103.47 118.55,104.38 119.04,105.29 119.52,106.20 120.01,107.11 120.50,108.02 120.99,108.93 121.48,109.84 121.97,110.75 122.46,111.66 122.95,112.57 123.44,113.48 123.93,114.39 124.42,115.30 124.91,116.21 125.40,117.12 125.89,118.03 126.38,118.94 126.87,119.85 127.36,120.76 127.84,121.67 128.33,122.58 128.82,123.49 129.31,124.40 129.80,125.31 130.29,126.22 130.78,127.13 131.27,128.04 131.76,128.95 132.25,129.86 132.74,130.77 133.23,131.68 133.72,132.59 134.21,133.50 134.70,134.41 135.19,135.32 135.68,136.23 136.16,137.15 136.65,138.06 137.14,138.97 137.63,139.88 138.12,140.79 138.61,141.70 139.10,142.61 139.59,143.52 140.08,144.43 140.57,145.34 141.06,146.25 141.55,147.16 142.04,148.07 142.53,148.98 143.02,149.89 143.51,150.80 143.99,151.71 144.48,152.62 144.97,153.53 145.46,154.44 145.95,155.35 146.44,156.26 146.93,157.17 147.42,158.08 147.91,158.99 148.40,159.90 148.89,160.81 149.38,161.72 149.87,162.63 150.36,163.54 150.85,164.45 151.34,165.36 151.83,166.27 152.31,167.18 152.80,168.09 153.29,169.00 153.78,169.91 154.27,170.82 154.76,171.73 155.25,172.64 155.74,173.55 156.23,174.46 156.72,175.36 157.21,176.27 157.70,177.18 158.19,178.09 158.68,179.00 159.17,179.91 159.66,180.82 160.14,181.73 160.63,182.64 161.12,183.55 161.61,184.45 162.10,185.36 162.59,186.27 163.08,187.18 163.57,188.09 164.06,189.00 164.55,189.90 165.04,190.81 165.53,191.72 166.02,192.63 166.51,193.53 167.00,194.44 167.49,195.35 167.98,196.25 168.46,197.16 168.95,198.06 169.44,198.97 169.93,199.87 170.42,200.78 170.91,201.68 171.40,202.58 171.89,203.49 172.38,204.39 172.87,205.29 173.36,206.19 173.85,207.09 174.34,207.99 174.83,208.89 175.32,209.79 175.81,210.69 176.30,211.59 176.78,212.48 177.27,213.38 177.76,214.27 178.25,215.16 178.74,216.06 179.23,216.95 179.72,217.83 180.21,218.72 180.70,219.61 181.19,220.49 181.68,221.37 182.17,222.25 182.66,223.13 183.15,224.01 183.64,224.88 184.13,225.75 184.61,226.62 185.10,227.48 185.59,228.35 186.08,229.21 186.57,230.06 187.06,230.91 187.55,231.76 188.04,232.60 188.53,233.44 189.02,234.28 189.51,235.11 190.00,235.93 190.49,236.75 190.98,237.57 191.47,238.37 191.96,239.17 192.45,239.97 192.93,240.75 193.42,241.53 193.91,242.30 194.40,243.07 194.89,243.82 195.38,244.57 195.87,245.30 196.36,246.03 196.85,246.74 197.34,247.45 197.83,248.14 198.32,248.82 198.81,249.49 199.30,250.15 199.79,250.79 200.28,251.42 200.77,252.04 201.25,252.64 201.74,253.23 202.23,253.80 202.72,254.36 203.21,254.91 203.70,255.44 204.19,255.95 204.68,256.45 205.17,256.93 205.66,257.40 206.15,257.85 206.64,258.29 207.13,258.71 207.62,259.11 208.11,259.50 208.60,259.87 209.08,260.23 209.57,260.58 210.06,260.91 210.55,261.22 211.04,261.52 211.53,261.81 212.02,262.08 212.51,262.34 213.00,262.59 213.49,262.83 213.98,263.05 214.47,263.26 214.96,263.46 215.45,263.65 215.94,263.83 216.43,264.00 216.92,264.16 217.40,264.32 217.89,264.46 218.38,264.60 218.87,264.72 219.36,264.84 219.85,264.96 220.34,265.06 220.83,265.16 221.32,265.26 221.81,265.35 222.30,265.43 222.79,265.51 223.28,265.58 223.77,265.65 224.26,265.71 224.75,265.77 225.24,265.83 225.72,265.88 226.21,265.93 226.70,265.98 227.19,266.02 227.68,266.07 228.17,266.10 228.66,266.14 229.15,266.17 229.64,266.20 230.13,266.23 230.62,266.26 231.11,266.29 231.60,266.31 232.09,266.33 232.58,266.35 233.07,266.37 233.56,266.39 234.04,266.41 234.53,266.42 235.02,266.44 235.51,266.45 236.00,266.47 236.49,266.48 236.98,266.49 237.47,266.50 237.96,266.51 238.45,266.52 238.94,266.53 239.43,266.54 239.92,266.54 240.41,266.55 240.90,266.56 241.39,266.56 241.87,266.57 242.36,266.58 242.85,266.58 243.34,266.58 243.83,266.59 244.32,266.59 244.81,266.60 245.30,266.60 245.79,266.60 246.28,266.61 246.77,266.61 247.26,266.61 247.75,266.61 248.24,266.62 248.73,266.62 249.22,266.62 249.71,266.62 250.19,266.63 250.68,266.63 251.17,266.63 251.66,266.63 252.15,266.63 252.64,266.63 253.13,266.63 253.62,266.63 254.11,266.64 254.60,266.64 255.09,266.64 255.58,266.64 256.07,266.64 256.56,266.64 257.05,266.64 257.54,266.64 258.02,266.64 258.51,266.64 259.00,266.64 259.49,266.64 259.98,266.64 260.47,266.64 260.96,266.64 261.45,266.64 261.94,266.65 262.43,266.65 262.92,266.65 263.41,266.65 263.90,266.65 264.39,266.65 264.88,266.65 265.37,266.65 265.86,266.65 266.34,266.65 266.83,266.65 267.32,266.65 267.81,266.65 268.30,266.65 268.79,266.65 269.28,266.65 269.77,266.65 270.26,266.65 270.75,266.65 271.24,266.65 271.73,266.65 272.22,266.65 272.71,266.65 273.20,266.65 273.69,266.65 274.18,266.65 274.66,266.65 275.15,266.65 275.64,266.65 276.13,266.65 276.62,266.65 277.11,266.65 277.60,266.65 278.09,266.65 278.58,266.65 279.07,266.65 279.56,266.65 280.05,266.65 280.54,266.65 281.03,266.65 281.52,266.65 282.01,266.65 282.50,266.65 282.98,266.65 283.47,266.65 283.96,266.65 284.45,266.65 284.94,266.65 285.43,266.65 285.92,266.65 286.41,266.65 286.90,266.65 287.39,266.65 287.88,266.65 288.37,266.65 288.86,266.65 289.35,266.65 289.84,266.65 290.33,266.65 290.81,266.65 291.30,266.65 291.79,266.65 292.28,266.65 292.77,266.65 293.26,266.65 293.75,266.65 294.24,266.65 294.73,266.65 295.22,266.65 295.71,266.65 296.20,266.65 296.69,266.65 297.18,266.65 297.67,266.65 298.16,266.65 298.65,266.65 299.13,266.65 299.62,266.65 300.11,266.65 300.60,266.65 301.09,266.65 301.58,266.65 302.07,266.65 302.56,266.65 303.05,266.65 303.54,266.65 304.03,266.65 304.52,266.65 305.01,266.65 305.50,266.65 305.99,266.65 306.48,266.65 306.97,266.65 307.45,266.65 307.94,266.65 308.43,266.65 308.92,266.65 309.41,266.65 309.90,266.65 310.39,266.65 310.88,266.65 311.37,266.65 311.86,266.65 312.35,266.65 312.84,266.65 313.33,266.65 313.82,266.65 314.31,266.65 314.80,266.65 315.28,266.65 315.77,266.65 316.26,266.65 316.75,266.65 317.24,266.65 317.73,266.65 318.22,266.65 318.71,266.65 319.20,266.65" fill="none" stroke="#000" stroke-width="1.50" stroke-linejoin="round" stroke-linecap="butt"/>
<rect x="415.70" y="22.45" width="244.70" height="244.20" fill="none" stroke="#505050" stroke-width="0.95"/>
<line x1="458.79" y1="266.65" x2="458.79" y2="264.20" stroke="#505050" stroke-width="0.95"/>
<line x1="458.79" y1="22.45" x2="458.79" y2="24.90" stroke="#505050" stroke-width="0.95"/>
<line x1="489.36" y1="266.65" x2="489.36" y2="264.20" stroke="#505050" stroke-width="0.95"/>
<line x1="489.36" y1="22.45" x2="489.36" y2="24.90" stroke="#505050" stroke-width="0.95"/>
<line x1="513.08" y1="266.65" x2="513.08" y2="264.20" stroke="#505050" stroke-width="0.95"/>
<line x1="513.08" y1="22.45" x2="513.08" y2="24.90" stroke="#505050" stroke-width="0.95"/>
<line x1="532.45" y1="266.65" x2="532.45" y2="264.20" stroke="#505050" stroke-width="0.95"/>
<line x1="532.45" y1="22.45" x2="532.45" y2="24.90" stroke="#505050" stroke-width="0.95"/>
<line x1="548.83" y1="266.65" x2="548.83" y2="264.20" stroke="#505050" stroke-width="0.95"/>
<line x1="548.83" y1="22.45" x2="548.83" y2="24.90" stroke="#505050" stroke-width="0.95"/>
<line x1="563.02" y1="266.65" x2="563.02" y2="264.20" stroke="#505050" stroke-width="0.95"/>
<line x1="563.02" y1="22.45" x2="563.02" y2="24.90" stroke="#505050" stroke-width="0.95"/>
<line x1="575.54" y1="266.65" x2="575.54" y2="264.20" stroke="#505050" stroke-width="0.95"/>
<line x1="575.54" y1="22.45" x2="575.54" y2="24.90" stroke="#505050" stroke-width="0.95"/>
<line x1="586.74" y1="266.65" x2="586.74" y2="261.75" stroke="#505050" stroke-width="0.95"/>
<line x1="586.74" y1="22.45" x2="586.74" y2="27.35" stroke="#505050" stroke-width="0.95"/>
<path d="M577.62 278.24L578.38 277.86L579.52 276.72L579.52 284.70M586.36 276.72L585.22 277.10L584.46 278.24L584.08 280.14L584.08 281.28L584.46 283.18L585.22 284.32L586.36 284.70L587.12 284.70L588.26 284.32L589.02 283.18L589.40 281.28L589.40 280.14L589.02 278.24L588.26 277.10L587.12 276.72L586.36 276.72M593.96 276.72L592.82 277.10L592.06 278.24L591.68 280.14L591.68 281.28L592.06 283.18L592.82 284.32L593.96 284.70L594.72 284.70L595.86 284.32L596.62 283.18L597.00 281.28L597.00 280.14L596.62 278.24L595.86 277.10L594.72 276.72L593.96 276.72" fill="none" stroke="#000" stroke-width="0.62" stroke-linecap="round" stroke-linejoin="round" />
<path d="M500.22 291.87L500.22 300.10M500.22 291.87L505.32 291.87M500.22 295.79L503.36 295.79M500.22 300.10L505.32 300.10M507.67 294.61L507.67 300.10M507.67 296.18L508.85 295.00L509.63 294.61L510.81 294.61L511.59 295.00L511.98 296.18L511.98 300.10M514.73 296.96L519.43 296.96L519.43 296.18L519.04 295.40L518.65 295.00L517.86 294.61L516.69 294.61L515.90 295.00L515.12 295.79L514.73 296.96L514.73 297.75L515.12 298.92L515.90 299.71L516.69 300.10L517.86 300.10L518.65 299.71L519.43 298.92M522.17 294.61L522.17 300.10M522.17 296.96L522.57 295.79L523.35 295.00L524.13 294.61L525.31 294.61M531.58 294.61L531.58 300.88L531.19 302.06L530.80 302.45L530.01 302.84L528.84 302.84L528.05 302.45M531.58 295.79L530.80 295.00L530.01 294.61L528.84 294.61L528.05 295.00L527.27 295.79L526.88 296.96L526.88 297.75L527.27 298.92L528.05 299.71L528.84 300.10L530.01 300.10L530.80 299.71L531.58 298.92M533.93 294.61L536.29 300.10M538.64 294.61L536.29 300.10L535.50 301.67L534.72 302.45L533.93 302.84L533.54 302.84M547.26 290.30L547.26 302.84M547.65 290.30L547.65 302.84M547.26 290.30L550.01 290.30M547.26 302.84L550.01 302.84M552.75 291.87L552.75 300.10M556.67 294.61L552.75 298.53M554.32 296.96L557.06 300.10M559.02 296.96L563.73 296.96L563.73 296.18L563.33 295.40L562.94 295.00L562.16 294.61L560.98 294.61L560.20 295.00L559.41 295.79L559.02 296.96L559.02 297.75L559.41 298.92L560.20 299.71L560.98 300.10L562.16 300.10L562.94 299.71L563.73 298.92M565.29 291.87L568.43 300.10M571.57 291.87L568.43 300.10M575.49 290.30L575.49 302.84M575.88 290.30L575.88 302.84M573.13 290.30L575.88 290.30M573.13 302.84L575.88 302.84" fill="none" stroke="#000" stroke-width="0.62" stroke-linecap="round" stroke-linejoin="round" />
<line x1="415.70" y1="266.65" x2="420.60" y2="266.65" stroke="#505050" stroke-width="0.95"/>
<line x1="660.40" y1="266.65" x2="655.50" y2="266.65" stroke="#505050" stroke-width="0.95"/>
<path d="M395.82 258.67L394.68 259.05L393.92 260.19L393.54 262.09L393.54 263.23L393.92 265.13L394.68 266.27L395.82 266.65L396.58 266.65L397.72 266.27L398.48 265.13L398.86 263.23L398.86 262.09L398.48 260.19L397.72 259.05L396.58 258.67L395.82 258.67M401.90 265.89L401.52 266.27L401.90 266.65L402.28 266.27L401.90 265.89M405.32 260.57L405.32 260.19L405.70 259.43L406.08 259.05L406.84 258.67L408.36 258.67L409.12 259.05L409.50 259.43L409.88 260.19L409.88 260.95L409.50 261.71L408.74 262.85L404.94 266.65L410.26 266.65" fill="none" stroke="#000" stroke-width="0.62" stroke-linecap="round" stroke-linejoin="round" />
<line x1="415.70" y1="258.51" x2="418.15" y2="258.51" stroke="#505050" stroke-width="0.95"/>
<line x1="660.40" y1="258.51" x2="657.95" y2="258.51" stroke="#505050" stroke-width="0.95"/>
<line x1="415.70" y1="250.37" x2="418.15" y2="250.37" stroke="#505050" stroke-width="0.95"/>
<line x1="660.40" y1="250.37" x2="657.95" y2="250.37" stroke="#505050" stroke-width="0.95"/>
<line x1="415.70" y1="242.23" x2="418.15" y2="242.23" stroke="#505050" stroke-width="0.95"/>
<line x1="660.40" y1="242.23" x2="657.95" y2="242.23" stroke="#505050" stroke-width="0.95"/>
<line x1="415.70" y1="234.09" x2="420.60" y2="234.09" stroke="#505050" stroke-width="0.95"/>
<line x1="660.40" y1="234.09" x2="655.50" y2="234.09" stroke="#505050" stroke-width="0.95"/>
<path d="M395.82 230.81L394.68 231.19L393.92 232.33L393.54 234.23L393.54 235.37L393.92 237.27L394.68 238.41L395.82 238.79L396.58 238.79L397.72 238.41L398.48 237.27L398.86 235.37L398.86 234.23L398.48 232.33L397.72 231.19L396.58 230.81L395.82 230.81M401.90 238.03L401.52 238.41L401.90 238.79L402.28 238.41L401.90 238.03M408.74 230.81L404.94 236.13L410.64 236.13M408.74 230.81L408.74 238.79" fill="none" stroke="#000" stroke-width="0.62" stroke-linecap="round" stroke-linejoin="round" />
<line x1="415.70" y1="225.95" x2="418.15" y2="225.95" stroke="#505050" stroke-width="0.95"/>
<line x1="660.40" y1="225.95" x2="657.95" y2="225.95" stroke="#505050" stroke-width="0.95"/>
<line x1="415.70" y1="217.81" x2="418.15" y2="217.81" stroke="#505050" stroke-width="0.95"/>
<line x1="660.40" y1="217.81" x2="657.95" y2="217.81" stroke="#505050" stroke-width="0.95"/>
<line x1="415.70" y1="209.67" x2="418.15" y2="209.67" stroke="#505050" stroke-width="0.95"/>
<line x1="660.40" y1="209.67" x2="657.95" y2="209.67" stroke="#505050" stroke-width="0.95"/>
<line x1="415.70" y1="201.53" x2="420.60" y2="201.53" stroke="#505050" stroke-width="0.95"/>
<line x1="660.40" y1="201.53" x2="655.50" y2="201.53" stroke="#505050" stroke-width="0.95"/>
<path d="M395.82 198.25L394.68 198.63L393.92 199.77L393.54 201.67L393.54 202.81L393.92 204.71L394.68 205.85L395.82 206.23L396.58 206.23L397.72 205.85L398.48 204.71L398.86 202.81L398.86 201.67L398.48 199.77L397.72 198.63L396.58 198.25L395.82 198.25M401.90 205.47L401.52 205.85L401.90 206.23L402.28 205.85L401.90 205.47M409.88 199.39L409.50 198.63L408.36 198.25L407.60 198.25L406.46 198.63L405.70 199.77L405.32 201.67L405.32 203.57L405.70 205.09L406.46 205.85L407.60 206.23L407.98 206.23L409.12 205.85L409.88 205.09L410.26 203.95L410.26 203.57L409.88 202.43L409.12 201.67L407.98 201.29L407.60 201.29L406.46 201.67L405.70 202.43L405.32 203.57" fill="none" stroke="#000" stroke-width="0.62" stroke-linecap="round" stroke-linejoin="round" />
<line x1="415.70" y1="193.39" x2="418.15" y2="193.39" stroke="#505050" stroke-width="0.95"/>
<line x1="660.40" y1="193.39" x2="657.95" y2="193.39" stroke="#505050" stroke-width="0.95"/>
<line x1="415.70" y1="185.25" x2="418.15" y2="185.25" stroke="#505050" stroke-width="0.95"/>
<line x1="660.40" y1="185.25" x2="657.95" y2="185.25" stroke="#505050" stroke-width="0.95"/>
<line x1="415.70" y1="177.11" x2="418.15" y2="177.11" stroke="#505050" stroke-width="0.95"/>
<line x1="660.40" y1="177.11" x2="657.95" y2="177.11" stroke="#505050" stroke-width="0.95"/>
<line x1="415.70" y1="168.97" x2="420.60" y2="168.97" stroke="#505050" stroke-width="0.95"/>
<line x1="660.40" y1="168.97" x2="655.50" y2="168.97" stroke="#505050" stroke-width="0.95"/>
<path d="M395.82 165.69L394.68 166.07L393.92 167.21L393.54 169.11L393.54 170.25L393.92 172.15L394.68 173.29L395.82 173.67L396.58 173.67L397.72 173.29L398.48 172.15L398.86 170.25L398.86 169.11L398.48 167.21L397.72 166.07L396.58 165.69L395.82 165.69M401.90 172.91L401.52 173.29L401.90 173.67L402.28 173.29L401.90 172.91M406.84 165.69L405.70 166.07L405.32 166.83L405.32 167.59L405.70 168.35L406.46 168.73L407.98 169.11L409.12 169.49L409.88 170.25L410.26 171.01L410.26 172.15L409.88 172.91L409.50 173.29L408.36 173.67L406.84 173.67L405.70 173.29L405.32 172.91L404.94 172.15L404.94 171.01L405.32 170.25L406.08 169.49L407.22 169.11L408.74 168.73L409.50 168.35L409.88 167.59L409.88 166.83L409.50 166.07L408.36 165.69L406.84 165.69" fill="none" stroke="#000" stroke-width="0.62" stroke-linecap="round" stroke-linejoin="round" />
<line x1="415.70" y1="160.83" x2="418.15" y2="160.83" stroke="#505050" stroke-width="0.95"/>
<line x1="660.40" y1="160.83" x2="657.95" y2="160.83" stroke="#505050" stroke-width="0.95"/>
<line x1="415.70" y1="152.69" x2="418.15" y2="152.69" stroke="#505050" stroke-width="0.95"/>
<line x1="660.40" y1="152.69" x2="657.95" y2="152.69" stroke="#505050" stroke-width="0.95"/>
<line x1="415.70" y1="144.55" x2="418.15" y2="144.55" stroke="#505050" stroke-width="0.95"/>
<line x1="660.40" y1="144.55" x2="657.95" y2="144.55" stroke="#505050" stroke-width="0.95"/>
<line x1="415.70" y1="136.41" x2="420.60" y2="136.41" stroke="#505050" stroke-width="0.95"/>
<line x1="660.40" y1="136.41" x2="655.50" y2="136.41" stroke="#505050" stroke-width="0.95"/>
<path d="M394.68 134.65L395.44 134.27L396.58 133.13L396.58 141.11M401.90 140.35L401.52 140.73L401.90 141.11L402.28 140.73L401.90 140.35M407.22 133.13L406.08 133.51L405.32 134.65L404.94 136.55L404.94 137.69L405.32 139.59L406.08 140.73L407.22 141.11L407.98 141.11L409.12 140.73L409.88 139.59L410.26 137.69L410.26 136.55L409.88 134.65L409.12 133.51L407.98 133.13L407.22 133.13" fill="none" stroke="#000" stroke-width="0.62" stroke-linecap="round" stroke-linejoin="round" />
<line x1="415.70" y1="128.27" x2="418.15" y2="128.27" stroke="#505050" stroke-width="0.95"/>
<line x1="660.40" y1="128.27" x2="657.95" y2="128.27" stroke="#505050" stroke-width="0.95"/>
<line x1="415.70" y1="120.13" x2="418.15" y2="120.13" stroke="#505050" stroke-width="0.95"/>
<line x1="660.40" y1="120.13" x2="657.95" y2="120.13" stroke="#505050" stroke-width="0.95"/>
<line x1="415.70" y1="111.99" x2="418.15" y2="111.99" stroke="#505050" stroke-width="0.95"/>
<line x1="660.40" y1="111.99" x2="657.95" y2="111.99" stroke="#505050" stroke-width="0.95"/>
<line x1="415.70" y1="103.85" x2="420.60" y2="103.85" stroke="#505050" stroke-width="0.95"/>
<line x1="660.40" y1="103.85" x2="655.50" y2="103.85" stroke="#505050" stroke-width="0.95"/>
<path d="M394.68 102.09L395.44 101.71L396.58 100.57L396.58 108.55M401.90 107.79L401.52 108.17L401.90 108.55L402.28 108.17L401.90 107.79M405.32 102.47L405.32 102.09L405.70 101.33L406.08 100.95L406.84 100.57L408.36 100.57L409.12 100.95L409.50 101.33L409.88 102.09L409.88 102.85L409.50 103.61L408.74 104.75L404.94 108.55L410.26 108.55" fill="none" stroke="#000" stroke-width="0.62" stroke-linecap="round" stroke-linejoin="round" />
<line x1="415.70" y1="95.71" x2="418.15" y2="95.71" stroke="#505050" stroke-width="0.95"/>
<line x1="660.40" y1="95.71" x2="657.95" y2="95.71" stroke="#505050" stroke-width="0.95"/>
<line x1="415.70" y1="87.57" x2="418.15" y2="87.57" stroke="#505050" stroke-width="0.95"/>
<line x1="660.40" y1="87.57" x2="657.95" y2="87.57" stroke="#505050" stroke-width="0.95"/>
<line x1="415.70" y1="79.43" x2="418.15" y2="79.43" stroke="#505050" stroke-width="0.95"/>
<line x1="660.40" y1="79.43" x2="657.95" y2="79.43" stroke="#505050" stroke-width="0.95"/>
<line x1="415.70" y1="71.29" x2="420.60" y2="71.29" stroke="#505050" stroke-width="0.95"/>
<line x1="660.40" y1="71.29" x2="655.50" y2="71.29" stroke="#505050" stroke-width="0.95"/>
<path d="M394.68 69.53L395.44 69.15L396.58 68.01L396.58 75.99M401.90 75.23L401.52 75.61L401.90 75.99L402.28 75.61L401.90 75.23M408.74 68.01L404.94 73.33L410.64 73.33M408.74 68.01L408.74 75.99" fill="none" stroke="#000" stroke-width="0.62" stroke-linecap="round" stroke-linejoin="round" />
<line x1="415.70" y1="63.15" x2="418.15" y2="63.15" stroke="#505050" stroke-width="0.95"/>
<line x1="660.40" y1="63.15" x2="657.95" y2="63.15" stroke="#505050" stroke-width="0.95"/>
<line x1="415.70" y1="55.01" x2="418.15" y2="55.01" stroke="#505050" stroke-width="0.95"/>
<line x1="660.40" y1="55.01" x2="657.95" y2="55.01" stroke="#505050" stroke-width="0.95"/>
<line x1="415.70" y1="46.87" x2="418.15" y2="46.87" stroke="#505050" stroke-width="0.95"/>
<line x1="660.40" y1="46.87" x2="657.95" y2="46.87" stroke="#505050" stroke-width="0.95"/>
<line x1="415.70" y1="38.73" x2="420.60" y2="38.73" stroke="#505050" stroke-width="0.95"/>
<line x1="660.40" y1="38.73" x2="655.50" y2="38.73" stroke="#505050" stroke-width="0.95"/>
<path d="M394.68 36.97L395.44 36.59L396.58 35.45L396.58 43.43M401.90 42.67L401.52 43.05L401.90 43.43L402.28 43.05L401.90 42.67M409.88 36.59L409.50 35.83L408.36 35.45L407.60 35.45L406.46 35.83L405.70 36.97L405.32 38.87L405.32 40.77L405.70 42.29L406.46 43.05L407.60 43.43L407.98 43.43L409.12 43.05L409.88 42.29L410.26 41.15L410.26 40.77L409.88 39.63L409.12 38.87L407.98 38.49L407.60 38.49L406.46 38.87L405.70 39.63L405.32 40.77" fill="none" stroke="#000" stroke-width="0.62" stroke-linecap="round" stroke-linejoin="round" />
<line x1="415.70" y1="30.59" x2="418.15" y2="30.59" stroke="#505050" stroke-width="0.95"/>
<line x1="660.40" y1="30.59" x2="657.95" y2="30.59" stroke="#505050" stroke-width="0.95"/>
<line x1="415.70" y1="22.45" x2="418.15" y2="22.45" stroke="#505050" stroke-width="0.95"/>
<line x1="660.40" y1="22.45" x2="657.95" y2="22.45" stroke="#505050" stroke-width="0.95"/>
<path d="M-36.66 -8.19L-36.66 0.00M-31.20 -8.19L-31.20 0.00M-36.66 -4.29L-31.20 -4.29M-28.47 -3.12L-23.79 -3.12L-23.79 -3.90L-24.18 -4.68L-24.57 -5.07L-25.35 -5.46L-26.52 -5.46L-27.30 -5.07L-28.08 -4.29L-28.47 -3.12L-28.47 -2.34L-28.08 -1.17L-27.30 -0.39L-26.52 0.00L-25.35 0.00L-24.57 -0.39L-23.79 -1.17M-21.45 -8.19L-21.06 -7.80L-20.67 -8.19L-21.06 -8.58L-21.45 -8.19M-21.06 -5.46L-21.06 0.00M-13.65 -5.46L-13.65 0.78L-14.04 1.95L-14.43 2.34L-15.21 2.73L-16.38 2.73L-17.16 2.34M-13.65 -4.29L-14.43 -5.07L-15.21 -5.46L-16.38 -5.46L-17.16 -5.07L-17.94 -4.29L-18.33 -3.12L-18.33 -2.34L-17.94 -1.17L-17.16 -0.39L-16.38 0.00L-15.21 0.00L-14.43 -0.39L-13.65 -1.17M-10.53 -8.19L-10.53 0.00M-10.53 -3.90L-9.36 -5.07L-8.58 -5.46L-7.41 -5.46L-6.63 -5.07L-6.24 -3.90L-6.24 0.00M-2.73 -8.19L-2.73 -1.56L-2.34 -0.39L-1.56 0.00L-0.78 0.00M-3.90 -5.46L-1.17 -5.46M7.80 -9.75L7.80 2.73M8.19 -9.75L8.19 2.73M7.80 -9.75L10.53 -9.75M7.80 2.73L10.53 2.73M13.26 -8.19L13.26 0.00M13.26 -8.19L16.38 0.00M19.50 -8.19L16.38 0.00M19.50 -8.19L19.50 0.00M22.62 -5.46L22.62 0.00M22.62 -3.90L23.79 -5.07L24.57 -5.46L25.74 -5.46L26.52 -5.07L26.91 -3.90L26.91 0.00M26.91 -3.90L28.08 -5.07L28.86 -5.46L30.03 -5.46L30.81 -5.07L31.20 -3.90L31.20 0.00M36.27 -9.75L36.27 2.73M36.66 -9.75L36.66 2.73M33.93 -9.75L36.66 -9.75M33.93 2.73L36.66 2.73" fill="none" stroke="#000" stroke-width="0.62" stroke-linecap="round" stroke-linejoin="round" transform="translate(381.60 145.35) rotate(-90)"/>
<polyline points="415.70,144.30 439.40,153.40 475.10,164.80 513.00,174.70 548.70,183.50 586.60,191.40 622.30,196.20 660.20,198.00" fill="none" stroke="#000" stroke-width="1.50" stroke-linejoin="round" stroke-linecap="butt"/>
<polyline points="415.70,136.80 439.40,145.70 475.10,156.10 513.00,165.40 548.70,172.80 586.60,178.60 622.30,183.30 660.20,185.20" fill="none" stroke="#ff0000" stroke-width="1.50" stroke-linejoin="round" stroke-linecap="butt"/>
<polyline points="415.70,58.60 439.40,61.70 475.10,65.30 513.00,68.40 548.70,70.60 586.60,72.30 622.30,72.70 660.20,72.50" fill="none" stroke="#0000ff" stroke-width="1.50" stroke-linejoin="round" stroke-linecap="butt"/>
<rect x="757.30" y="22.45" width="244.40" height="244.20" fill="none" stroke="#505050" stroke-width="0.95"/>
<line x1="800.34" y1="266.65" x2="800.34" y2="264.20" stroke="#505050" stroke-width="0.95"/>
<line x1="800.34" y1="22.45" x2="800.34" y2="24.90" stroke="#505050" stroke-width="0.95"/>
<line x1="830.87" y1="266.65" x2="830.87" y2="264.20" stroke="#505050" stroke-width="0.95"/>
<line x1="830.87" y1="22.45" x2="830.87" y2="24.90" stroke="#505050" stroke-width="0.95"/>
<line x1="854.56" y1="266.65" x2="854.56" y2="264.20" stroke="#505050" stroke-width="0.95"/>
<line x1="854.56" y1="22.45" x2="854.56" y2="24.90" stroke="#505050" stroke-width="0.95"/>
<line x1="873.91" y1="266.65" x2="873.91" y2="264.20" stroke="#505050" stroke-width="0.95"/>
<line x1="873.91" y1="22.45" x2="873.91" y2="24.90" stroke="#505050" stroke-width="0.95"/>
<line x1="890.27" y1="266.65" x2="890.27" y2="264.20" stroke="#505050" stroke-width="0.95"/>
<line x1="890.27" y1="22.45" x2="890.27" y2="24.90" stroke="#505050" stroke-width="0.95"/>
<line x1="904.44" y1="266.65" x2="904.44" y2="264.20" stroke="#505050" stroke-width="0.95"/>
<line x1="904.44" y1="22.45" x2="904.44" y2="24.90" stroke="#505050" stroke-width="0.95"/>
<line x1="916.95" y1="266.65" x2="916.95" y2="264.20" stroke="#505050" stroke-width="0.95"/>
<line x1="916.95" y1="22.45" x2="916.95" y2="24.90" stroke="#505050" stroke-width="0.95"/>
<line x1="928.13" y1="266.65" x2="928.13" y2="261.75" stroke="#505050" stroke-width="0.95"/>
<line x1="928.13" y1="22.45" x2="928.13" y2="27.35" stroke="#505050" stroke-width="0.95"/>
<path d="M919.01 278.24L919.77 277.86L920.91 276.72L920.91 284.70M927.75 276.72L926.61 277.10L925.85 278.24L925.47 280.14L925.47 281.28L925.85 283.18L926.61 284.32L927.75 284.70L928.51 284.70L929.65 284.32L930.41 283.18L930.79 281.28L930.79 280.14L930.41 278.24L929.65 277.10L928.51 276.72L927.75 276.72M935.35 276.72L934.21 277.10L933.45 278.24L933.07 280.14L933.07 281.28L933.45 283.18L934.21 284.32L935.35 284.70L936.11 284.70L937.25 284.32L938.01 283.18L938.39 281.28L938.39 280.14L938.01 278.24L937.25 277.10L936.11 276.72L935.35 276.72" fill="none" stroke="#000" stroke-width="0.62" stroke-linecap="round" stroke-linejoin="round" />
<path d="M841.67 291.87L841.67 300.10M841.67 291.87L846.77 291.87M841.67 295.79L844.81 295.79M841.67 300.10L846.77 300.10M849.12 294.61L849.12 300.10M849.12 296.18L850.30 295.00L851.08 294.61L852.26 294.61L853.04 295.00L853.43 296.18L853.43 300.10M856.18 296.96L860.88 296.96L860.88 296.18L860.49 295.40L860.10 295.00L859.31 294.61L858.14 294.61L857.35 295.00L856.57 295.79L856.18 296.96L856.18 297.75L856.57 298.92L857.35 299.71L858.14 300.10L859.31 300.10L860.10 299.71L860.88 298.92M863.62 294.61L863.62 300.10M863.62 296.96L864.02 295.79L864.80 295.00L865.58 294.61L866.76 294.61M873.03 294.61L873.03 300.88L872.64 302.06L872.25 302.45L871.46 302.84L870.29 302.84L869.50 302.45M873.03 295.79L872.25 295.00L871.46 294.61L870.29 294.61L869.50 295.00L868.72 295.79L868.33 296.96L868.33 297.75L868.72 298.92L869.50 299.71L870.29 300.10L871.46 300.10L872.25 299.71L873.03 298.92M875.38 294.61L877.74 300.10M880.09 294.61L877.74 300.10L876.95 301.67L876.17 302.45L875.38 302.84L874.99 302.84M888.71 290.30L888.71 302.84M889.10 290.30L889.10 302.84M888.71 290.30L891.46 290.30M888.71 302.84L891.46 302.84M894.20 291.87L894.20 300.10M898.12 294.61L894.20 298.53M895.77 296.96L898.51 300.10M900.47 296.96L905.18 296.96L905.18 296.18L904.78 295.40L904.39 295.00L903.61 294.61L902.43 294.61L901.65 295.00L900.86 295.79L900.47 296.96L900.47 297.75L900.86 298.92L901.65 299.71L902.43 300.10L903.61 300.10L904.39 299.71L905.18 298.92M906.74 291.87L909.88 300.10M913.02 291.87L909.88 300.10M916.94 290.30L916.94 302.84M917.33 290.30L917.33 302.84M914.58 290.30L917.33 290.30M914.58 302.84L917.33 302.84" fill="none" stroke="#000" stroke-width="0.62" stroke-linecap="round" stroke-linejoin="round" />
<line x1="757.30" y1="266.65" x2="762.20" y2="266.65" stroke="#505050" stroke-width="0.95"/>
<line x1="1001.70" y1="266.65" x2="996.80" y2="266.65" stroke="#505050" stroke-width="0.95"/>
<path d="M737.42 258.67L736.28 259.05L735.52 260.19L735.14 262.09L735.14 263.23L735.52 265.13L736.28 266.27L737.42 266.65L738.18 266.65L739.32 266.27L740.08 265.13L740.46 263.23L740.46 262.09L740.08 260.19L739.32 259.05L738.18 258.67L737.42 258.67M743.50 265.89L743.12 266.27L743.50 266.65L743.88 266.27L743.50 265.89M750.34 258.67L746.54 263.99L752.24 263.99M750.34 258.67L750.34 266.65" fill="none" stroke="#000" stroke-width="0.62" stroke-linecap="round" stroke-linejoin="round" />
<line x1="757.30" y1="257.26" x2="759.75" y2="257.26" stroke="#505050" stroke-width="0.95"/>
<line x1="1001.70" y1="257.26" x2="999.25" y2="257.26" stroke="#505050" stroke-width="0.95"/>
<line x1="757.30" y1="247.87" x2="759.75" y2="247.87" stroke="#505050" stroke-width="0.95"/>
<line x1="1001.70" y1="247.87" x2="999.25" y2="247.87" stroke="#505050" stroke-width="0.95"/>
<line x1="757.30" y1="238.47" x2="759.75" y2="238.47" stroke="#505050" stroke-width="0.95"/>
<line x1="1001.70" y1="238.47" x2="999.25" y2="238.47" stroke="#505050" stroke-width="0.95"/>
<line x1="757.30" y1="229.08" x2="762.20" y2="229.08" stroke="#505050" stroke-width="0.95"/>
<line x1="1001.70" y1="229.08" x2="996.80" y2="229.08" stroke="#505050" stroke-width="0.95"/>
<path d="M737.42 225.80L736.28 226.18L735.52 227.32L735.14 229.22L735.14 230.36L735.52 232.26L736.28 233.40L737.42 233.78L738.18 233.78L739.32 233.40L740.08 232.26L740.46 230.36L740.46 229.22L740.08 227.32L739.32 226.18L738.18 225.80L737.42 225.80M743.50 233.02L743.12 233.40L743.50 233.78L743.88 233.40L743.50 233.02M751.48 226.94L751.10 226.18L749.96 225.80L749.20 225.80L748.06 226.18L747.30 227.32L746.92 229.22L746.92 231.12L747.30 232.64L748.06 233.40L749.20 233.78L749.58 233.78L750.72 233.40L751.48 232.64L751.86 231.50L751.86 231.12L751.48 229.98L750.72 229.22L749.58 228.84L749.20 228.84L748.06 229.22L747.30 229.98L746.92 231.12" fill="none" stroke="#000" stroke-width="0.62" stroke-linecap="round" stroke-linejoin="round" />
<line x1="757.30" y1="219.69" x2="759.75" y2="219.69" stroke="#505050" stroke-width="0.95"/>
<line x1="1001.70" y1="219.69" x2="999.25" y2="219.69" stroke="#505050" stroke-width="0.95"/>
<line x1="757.30" y1="210.30" x2="759.75" y2="210.30" stroke="#505050" stroke-width="0.95"/>
<line x1="1001.70" y1="210.30" x2="999.25" y2="210.30" stroke="#505050" stroke-width="0.95"/>
<line x1="757.30" y1="200.90" x2="759.75" y2="200.90" stroke="#505050" stroke-width="0.95"/>
<line x1="1001.70" y1="200.90" x2="999.25" y2="200.90" stroke="#505050" stroke-width="0.95"/>
<line x1="757.30" y1="191.51" x2="762.20" y2="191.51" stroke="#505050" stroke-width="0.95"/>
<line x1="1001.70" y1="191.51" x2="996.80" y2="191.51" stroke="#505050" stroke-width="0.95"/>
<path d="M737.42 188.23L736.28 188.61L735.52 189.75L735.14 191.65L735.14 192.79L735.52 194.69L736.28 195.83L737.42 196.21L738.18 196.21L739.32 195.83L740.08 194.69L740.46 192.79L740.46 191.65L740.08 189.75L739.32 188.61L738.18 188.23L737.42 188.23M743.50 195.45L743.12 195.83L743.50 196.21L743.88 195.83L743.50 195.45M748.44 188.23L747.30 188.61L746.92 189.37L746.92 190.13L747.30 190.89L748.06 191.27L749.58 191.65L750.72 192.03L751.48 192.79L751.86 193.55L751.86 194.69L751.48 195.45L751.10 195.83L749.96 196.21L748.44 196.21L747.30 195.83L746.92 195.45L746.54 194.69L746.54 193.55L746.92 192.79L747.68 192.03L748.82 191.65L750.34 191.27L751.10 190.89L751.48 190.13L751.48 189.37L751.10 188.61L749.96 188.23L748.44 188.23" fill="none" stroke="#000" stroke-width="0.62" stroke-linecap="round" stroke-linejoin="round" />
<line x1="757.30" y1="182.12" x2="759.75" y2="182.12" stroke="#505050" stroke-width="0.95"/>
<line x1="1001.70" y1="182.12" x2="999.25" y2="182.12" stroke="#505050" stroke-width="0.95"/>
<line x1="757.30" y1="172.73" x2="759.75" y2="172.73" stroke="#505050" stroke-width="0.95"/>
<line x1="1001.70" y1="172.73" x2="999.25" y2="172.73" stroke="#505050" stroke-width="0.95"/>
<line x1="757.30" y1="163.33" x2="759.75" y2="163.33" stroke="#505050" stroke-width="0.95"/>
<line x1="1001.70" y1="163.33" x2="999.25" y2="163.33" stroke="#505050" stroke-width="0.95"/>
<line x1="757.30" y1="153.94" x2="762.20" y2="153.94" stroke="#505050" stroke-width="0.95"/>
<line x1="1001.70" y1="153.94" x2="996.80" y2="153.94" stroke="#505050" stroke-width="0.95"/>
<path d="M736.28 152.18L737.04 151.80L738.18 150.66L738.18 158.64M743.50 157.88L743.12 158.26L743.50 158.64L743.88 158.26L743.50 157.88M748.82 150.66L747.68 151.04L746.92 152.18L746.54 154.08L746.54 155.22L746.92 157.12L747.68 158.26L748.82 158.64L749.58 158.64L750.72 158.26L751.48 157.12L751.86 155.22L751.86 154.08L751.48 152.18L750.72 151.04L749.58 150.66L748.82 150.66" fill="none" stroke="#000" stroke-width="0.62" stroke-linecap="round" stroke-linejoin="round" />
<line x1="757.30" y1="144.55" x2="759.75" y2="144.55" stroke="#505050" stroke-width="0.95"/>
<line x1="1001.70" y1="144.55" x2="999.25" y2="144.55" stroke="#505050" stroke-width="0.95"/>
<line x1="757.30" y1="135.16" x2="759.75" y2="135.16" stroke="#505050" stroke-width="0.95"/>
<line x1="1001.70" y1="135.16" x2="999.25" y2="135.16" stroke="#505050" stroke-width="0.95"/>
<line x1="757.30" y1="125.77" x2="759.75" y2="125.77" stroke="#505050" stroke-width="0.95"/>
<line x1="1001.70" y1="125.77" x2="999.25" y2="125.77" stroke="#505050" stroke-width="0.95"/>
<line x1="757.30" y1="116.37" x2="762.20" y2="116.37" stroke="#505050" stroke-width="0.95"/>
<line x1="1001.70" y1="116.37" x2="996.80" y2="116.37" stroke="#505050" stroke-width="0.95"/>
<path d="M736.28 114.61L737.04 114.23L738.18 113.09L738.18 121.07M743.50 120.31L743.12 120.69L743.50 121.07L743.88 120.69L743.50 120.31M746.92 114.99L746.92 114.61L747.30 113.85L747.68 113.47L748.44 113.09L749.96 113.09L750.72 113.47L751.10 113.85L751.48 114.61L751.48 115.37L751.10 116.13L750.34 117.27L746.54 121.07L751.86 121.07" fill="none" stroke="#000" stroke-width="0.62" stroke-linecap="round" stroke-linejoin="round" />
<line x1="757.30" y1="106.98" x2="759.75" y2="106.98" stroke="#505050" stroke-width="0.95"/>
<line x1="1001.70" y1="106.98" x2="999.25" y2="106.98" stroke="#505050" stroke-width="0.95"/>
<line x1="757.30" y1="97.59" x2="759.75" y2="97.59" stroke="#505050" stroke-width="0.95"/>
<line x1="1001.70" y1="97.59" x2="999.25" y2="97.59" stroke="#505050" stroke-width="0.95"/>
<line x1="757.30" y1="88.20" x2="759.75" y2="88.20" stroke="#505050" stroke-width="0.95"/>
<line x1="1001.70" y1="88.20" x2="999.25" y2="88.20" stroke="#505050" stroke-width="0.95"/>
<line x1="757.30" y1="78.80" x2="762.20" y2="78.80" stroke="#505050" stroke-width="0.95"/>
<line x1="1001.70" y1="78.80" x2="996.80" y2="78.80" stroke="#505050" stroke-width="0.95"/>
<path d="M736.28 77.04L737.04 76.66L738.18 75.52L738.18 83.50M743.50 82.74L743.12 83.12L743.50 83.50L743.88 83.12L743.50 82.74M750.34 75.52L746.54 80.84L752.24 80.84M750.34 75.52L750.34 83.50" fill="none" stroke="#000" stroke-width="0.62" stroke-linecap="round" stroke-linejoin="round" />
<line x1="757.30" y1="69.41" x2="759.75" y2="69.41" stroke="#505050" stroke-width="0.95"/>
<line x1="1001.70" y1="69.41" x2="999.25" y2="69.41" stroke="#505050" stroke-width="0.95"/>
<line x1="757.30" y1="60.02" x2="759.75" y2="60.02" stroke="#505050" stroke-width="0.95"/>
<line x1="1001.70" y1="60.02" x2="999.25" y2="60.02" stroke="#505050" stroke-width="0.95"/>
<line x1="757.30" y1="50.63" x2="759.75" y2="50.63" stroke="#505050" stroke-width="0.95"/>
<line x1="1001.70" y1="50.63" x2="999.25" y2="50.63" stroke="#505050" stroke-width="0.95"/>
<line x1="757.30" y1="41.23" x2="762.20" y2="41.23" stroke="#505050" stroke-width="0.95"/>
<line x1="1001.70" y1="41.23" x2="996.80" y2="41.23" stroke="#505050" stroke-width="0.95"/>
<path d="M736.28 39.47L737.04 39.09L738.18 37.95L738.18 45.93M743.50 45.17L743.12 45.55L743.50 45.93L743.88 45.55L743.50 45.17M751.48 39.09L751.10 38.33L749.96 37.95L749.20 37.95L748.06 38.33L747.30 39.47L746.92 41.37L746.92 43.27L747.30 44.79L748.06 45.55L749.20 45.93L749.58 45.93L750.72 45.55L751.48 44.79L751.86 43.65L751.86 43.27L751.48 42.13L750.72 41.37L749.58 40.99L749.20 40.99L748.06 41.37L747.30 42.13L746.92 43.27" fill="none" stroke="#000" stroke-width="0.62" stroke-linecap="round" stroke-linejoin="round" />
<line x1="757.30" y1="31.84" x2="759.75" y2="31.84" stroke="#505050" stroke-width="0.95"/>
<line x1="1001.70" y1="31.84" x2="999.25" y2="31.84" stroke="#505050" stroke-width="0.95"/>
<line x1="757.30" y1="22.45" x2="759.75" y2="22.45" stroke="#505050" stroke-width="0.95"/>
<line x1="1001.70" y1="22.45" x2="999.25" y2="22.45" stroke="#505050" stroke-width="0.95"/>
<path d="M-44.27 -8.19L-44.27 0.00M-44.27 -8.19L-39.20 -8.19M-44.27 -4.29L-41.15 -4.29M-38.02 -8.19L-36.08 0.00M-34.12 -8.19L-36.08 0.00M-34.12 -8.19L-32.17 0.00M-30.23 -8.19L-32.17 0.00M-27.89 -8.19L-27.89 0.00M-22.43 -8.19L-22.43 0.00M-27.89 -4.29L-22.43 -4.29M-19.31 -8.19L-19.31 0.00M-19.31 -8.19L-16.19 0.00M-13.07 -8.19L-16.19 0.00M-13.07 -8.19L-13.07 0.00M-3.71 -9.75L-3.71 2.73M-3.32 -9.75L-3.32 2.73M-3.71 -9.75L-0.98 -9.75M-3.71 2.73L-0.98 2.73M6.04 -5.46L6.04 0.00M6.04 -4.29L5.26 -5.07L4.48 -5.46L3.31 -5.46L2.53 -5.07L1.75 -4.29L1.36 -3.12L1.36 -2.34L1.75 -1.17L2.53 -0.39L3.31 0.00L4.48 0.00L5.26 -0.39L6.04 -1.17M9.16 -5.46L9.16 0.00M9.16 -3.12L9.55 -4.29L10.33 -5.07L11.11 -5.46L12.28 -5.46M18.52 -4.29L17.74 -5.07L16.96 -5.46L15.79 -5.46L15.01 -5.07L14.23 -4.29L13.84 -3.12L13.84 -2.34L14.23 -1.17L15.01 -0.39L15.79 0.00L16.96 0.00L17.74 -0.39L18.52 -1.17M25.15 -4.29L24.76 -5.07L23.59 -5.46L22.42 -5.46L21.25 -5.07L20.86 -4.29L21.25 -3.51L22.03 -3.12L23.98 -2.73L24.76 -2.34L25.15 -1.56L25.15 -1.17L24.76 -0.39L23.59 0.00L22.42 0.00L21.25 -0.39L20.86 -1.17M27.49 -3.12L32.17 -3.12L32.17 -3.90L31.78 -4.68L31.39 -5.07L30.61 -5.46L29.44 -5.46L28.66 -5.07L27.88 -4.29L27.49 -3.12L27.49 -2.34L27.88 -1.17L28.66 -0.39L29.44 0.00L30.61 0.00L31.39 -0.39L32.17 -1.17M39.20 -4.29L38.41 -5.07L37.63 -5.46L36.46 -5.46L35.69 -5.07L34.91 -4.29L34.52 -3.12L34.52 -2.34L34.91 -1.17L35.69 -0.39L36.46 0.00L37.63 0.00L38.41 -0.39L39.20 -1.17M43.88 -9.75L43.88 2.73M44.27 -9.75L44.27 2.73M41.54 -9.75L44.27 -9.75M41.54 2.73L44.27 2.73" fill="none" stroke="#000" stroke-width="0.62" stroke-linecap="round" stroke-linejoin="round" transform="translate(723.30 145.35) rotate(-90)"/>
<polyline points="757.30,163.50 781.00,174.20 816.70,187.30 854.60,203.30 890.30,215.70 928.10,232.70 963.80,243.90 1001.70,247.60" fill="none" stroke="#000" stroke-width="1.50" stroke-linejoin="round" stroke-linecap="butt"/>
<polyline points="757.30,179.40 781.00,187.90 816.70,200.30 854.60,215.70 890.30,228.10 928.10,237.80 963.80,247.60 1001.70,248.80" fill="none" stroke="#ff0000" stroke-width="1.50" stroke-linejoin="round" stroke-linecap="butt"/>
<polyline points="757.30,95.80 781.00,86.70 816.70,78.30 854.60,70.60 890.30,64.20 928.10,58.20 963.80,52.70 1001.70,44.20" fill="none" stroke="#0000ff" stroke-width="1.50" stroke-linejoin="round" stroke-linecap="butt"/>
</svg>
</body></html>
